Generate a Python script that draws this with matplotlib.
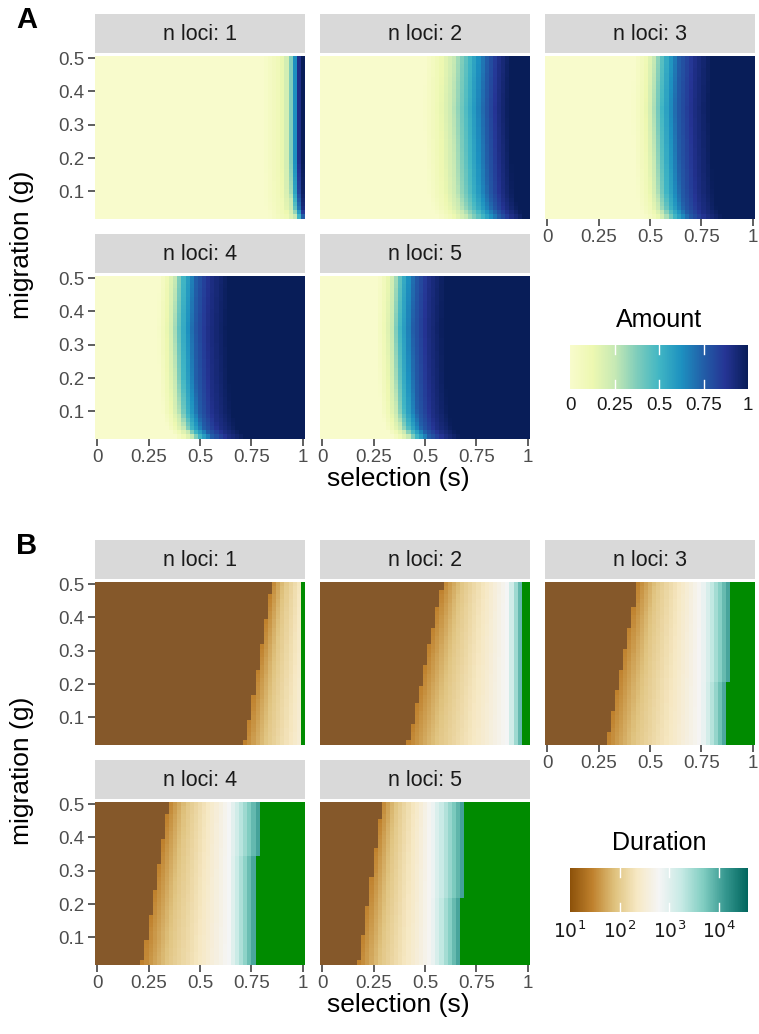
import numpy as np
import matplotlib
matplotlib.use('Agg')
import matplotlib.pyplot as plt
from matplotlib.colors import LinearSegmentedColormap, Normalize
from matplotlib.cm import ScalarMappable

plt.rcParams['font.family'] = ['Liberation Sans', 'DejaVu Sans']

W, H = 759, 1034

# ── data ───────────────────────────────────────────────────────────────────────
N_LOCI = [1, 2, 3, 4, 5]
sel = np.round(np.arange(0, 1.0001, 0.02), 2)          # selection (s)
mig = np.round(np.arange(0.025, 0.50001, 0.0125), 4)   # migration (g)

# Amount: s at which the amount reaches each level (top rows, g ~ 0.5)
AMOUNT_LEVELS = [0, 0.1, 0.25, 0.5, 0.75, 0.9, 1.0]
AMOUNT_S = {
    1: [0.80, 0.89, 0.93, 0.95, 0.97, 0.98, 1.00],
    2: [0.50, 0.57, 0.64, 0.72, 0.80, 0.86, 0.92],
    3: [0.42, 0.48, 0.52, 0.57, 0.64, 0.72, 0.80],
    4: [0.30, 0.34, 0.38, 0.42, 0.48, 0.55, 0.64],
    5: [0.27, 0.31, 0.35, 0.39, 0.45, 0.52, 0.60],
}
# rightward bend of the front at small migration
SHIFT_G = [0.025, 0.05, 0.1, 0.2, 0.35, 0.5]
AMOUNT_SHIFT = {
    1: [0.03, 0.015, 0.005, 0.0, 0.0, 0.0],
    2: [0.06, 0.03, 0.01, 0.0, -0.01, 0.0],
    3: [0.05, 0.025, 0.01, 0.0, -0.01, 0.0],
    4: [0.08, 0.04, 0.015, 0.0, -0.01, 0.0],
    5: [0.07, 0.035, 0.012, 0.0, -0.01, 0.0],
}

# Duration: brown edge (g=0.5 / g=0.025), white point, green edge
DUR_EDGE_TOP = [0.85, 0.585, 0.44, 0.35, 0.29]
DUR_EDGE_BOT = [0.72, 0.42, 0.29, 0.22, 0.18]
DUR_WHITE = [1.06, 0.90, 0.75, 0.64, 0.53]
GREEN_UPPER = [1.00, 0.98, 0.90, 0.80, 0.70]
GREEN_LOWER = [1.00, 0.98, 0.88, 0.78, 0.68]
GREEN_SPLIT_G = [0.25, 0.25, 0.21, 0.35, 0.22]
DUR_T = [0, 0.3, 0.7, 1.0]
DUR_LOG = [1.45, 1.95, 2.4, 2.8]
DUR_LOG_GREEN = 4.2

BROWN = '#85582a'
GREEN = '#008b00'


def amount_grid(k):
    z = np.zeros((len(mig), len(sel)))
    for i, g in enumerate(mig):
        shift = np.interp(g, SHIFT_G, AMOUNT_SHIFT[k])
        z[i] = np.interp(sel, np.array(AMOUNT_S[k]) + shift, AMOUNT_LEVELS)
    return z


def duration_grid(j):
    z = np.zeros((len(mig), len(sel)))
    for i, g in enumerate(mig):
        sb = np.interp(g, [0.025, 0.5], [DUR_EDGE_BOT[j], DUR_EDGE_TOP[j]])
        sg = GREEN_LOWER[j] if g < GREEN_SPLIT_G[j] else GREEN_UPPER[j]
        sw = DUR_WHITE[j]
        for c, s in enumerate(sel):
            if s < sb:
                v = -5.0
            elif s >= sg - 1e-6:
                v = 99.0
            elif s <= sw:
                v = np.interp((s - sb) / (sw - sb), DUR_T, DUR_LOG)
            else:
                v = DUR_LOG[-1] + (s - sw) / (sg - sw) * (DUR_LOG_GREEN - DUR_LOG[-1])
            z[i, c] = v
    return z


# ── colours ───────────────────────────────────────────────────────────────────
ylgnbu = ['#f8fbcc', '#edf8b1', '#c7e9b4', '#7fcdbb', '#41b6c4',
          '#1d91c0', '#225ea8', '#253494', '#081d58']
amount_cmap = LinearSegmentedColormap.from_list('ylgnbu', ylgnbu)
amount_norm = Normalize(0, 1)
brbg = ['#8c510a', '#bf812d', '#dfc27d', '#f6e8c3', '#f5f5f5',
        '#c7eae5', '#80cdc1', '#35978f', '#01665e']
dur_cmap = LinearSegmentedColormap.from_list('brbg', brbg).with_extremes(
    under=BROWN, over=GREEN)
dur_norm = Normalize(1, 4.58)

s_edges = np.append(sel - 0.01, sel[-1] + 0.01)
g_edges = np.append(mig - 0.00625, mig[-1] + 0.00625)

fig = plt.figure(figsize=(W / 100, H / 100), dpi=100)
fig.patch.set_facecolor('white')


def px_axes(left, top, w, h):
    return fig.add_axes([left / W, 1 - (top + h) / H, w / W, h / H])


COL_LEFT = [95, 320, 545]
PW, PH = 210, 165
STRIP_H = 39
TICK_C = '#333333'
LAB_C = '#4d4d4d'


def panel(left, top, z, cmap, norm, k, show_x, show_y):
    st = px_axes(left, top - STRIP_H - 1, PW, STRIP_H)
    st.set_facecolor('#d9d9d9')
    st.set_xticks([]); st.set_yticks([])
    for sp in st.spines.values():
        sp.set_visible(False)
    st.text(0.5, 0.47, f'n loci: {k}', ha='center', va='center',
            fontsize=15.5, color='#1a1a1a', transform=st.transAxes)

    ax = px_axes(left, top, PW, PH)
    ax.pcolormesh(s_edges, g_edges, z, cmap=cmap, norm=norm,
                  shading='flat', rasterized=True)
    ax.set_xlim(-0.01, 1.01)
    ax.set_ylim(0.0175, 0.512)
    for sp in ax.spines.values():
        sp.set_visible(False)
    ax.set_xticks([0, 0.25, 0.5, 0.75, 1])
    ax.set_yticks([0.1, 0.2, 0.3, 0.4, 0.5])
    ax.set_xticklabels(['0', '0.25', '0.5', '0.75', '1'])
    ax.set_yticklabels(['0.1', '0.2', '0.3', '0.4', '0.5'])
    ax.tick_params(length=5, width=1.1, color=TICK_C, labelcolor=LAB_C,
                   labelsize=13.5, pad=2.5)
    if not show_x:
        ax.tick_params(axis='x', length=0, labelbottom=False)
    if not show_y:
        ax.tick_params(axis='y', length=0, labelleft=False)
    return ax


def block(y0, grid_fn, cmap, norm, letter):
    row_tops = [y0, y0 + 220]
    for idx, k in enumerate(N_LOCI):
        r, c = divmod(idx, 3)
        z = grid_fn(idx)
        show_x = (r == 1) or (c == 2)
        panel(COL_LEFT[c], row_tops[r], z, cmap, norm, k, show_x, c == 0)
    fig.text(22 / W, 1 - (y0 + 191) / H, 'migration (g)', rotation=90,
             ha='center', va='center', fontsize=19)
    fig.text(398 / W, 1 - (y0 + 425) / H, 'selection (s)',
             ha='center', va='center', fontsize=19)
    fig.text(16 / W, 1 - (y0 - 34) / H, letter, ha='left', va='center',
             fontsize=21, fontweight='bold')


block(54, lambda i: amount_grid(N_LOCI[i]), amount_cmap, amount_norm, 'A')
block(580, duration_grid, dur_cmap, dur_norm, 'B')


def colorbar(top, title, cmap, norm, ticks, labels):
    cax = px_axes(570, top, 178, 44)
    cb = fig.colorbar(ScalarMappable(norm=norm, cmap=cmap), cax=cax,
                      orientation='horizontal')
    cb.outline.set_visible(False)
    cb.set_ticks(ticks)
    cb.set_ticklabels(labels)
    cax.tick_params(length=0, labelsize=13.5, labelcolor='#1a1a1a', pad=6)
    tr = cax.get_xaxis_transform()
    for t in ticks:
        if norm.vmin < t < norm.vmax:
            cax.plot([t, t], [0, 0.2], color='white', lw=1, transform=tr)
            cax.plot([t, t], [0.8, 1], color='white', lw=1, transform=tr)
    fig.text(659 / W, 1 - (top - 25) / H, title, ha='center', va='center',
             fontsize=18)


colorbar(345, 'Amount', amount_cmap, amount_norm,
         [0, 0.25, 0.5, 0.75, 1], ['0', '0.25', '0.5', '0.75', '1'])
colorbar(868, 'Duration', dur_cmap, dur_norm,
         [1, 2, 3, 4], ['$10^1$', '$10^2$', '$10^3$', '$10^4$'])

fig.savefig('out.png', dpi=100)
